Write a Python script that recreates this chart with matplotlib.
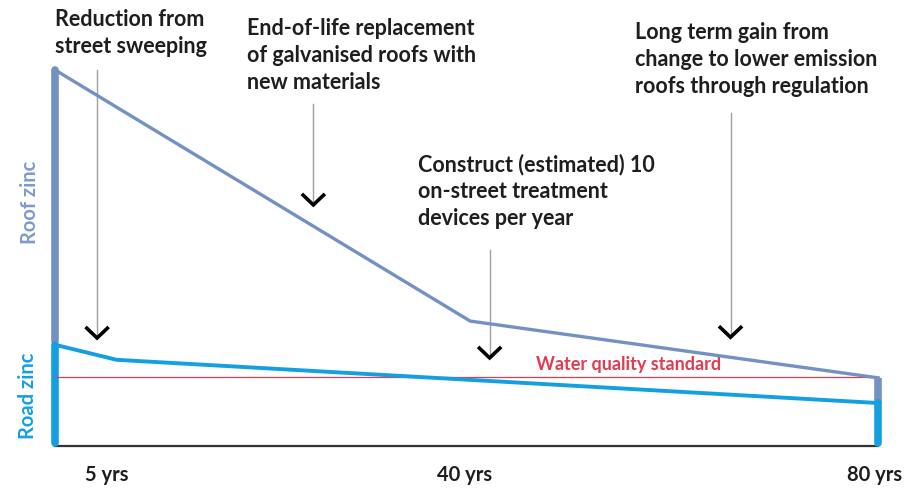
import matplotlib.pyplot as plt
import numpy as np

# time axis in years, concentrations in arbitrary units
roof_years = [0, 40.5, 80.3]
roof_zinc = [100, 33.2, 18.1]

road_years = [0, 6.0, 80.3]
road_zinc = [26.9, 22.9, 11.4]

water_standard = 18.4

tick_years = [5, 40, 80]
tick_labels = ['5 yrs', '40 yrs', '80 yrs']

notes = [
    'Reduction from\nstreet sweeping',
    'End-of-life replacement\nof galvanised roofs with\nnew materials',
    'Construct (estimated) 10\non-street treatment\ndevices per year',
    'Long term gain from\nchange to lower emission\nroofs through regulation',
]
note_pos = [(0.0, 116.2), (18.7, 113.9), (35.4, 77.8), (56.6, 112.7)]
arrow_x = [4.1, 25.2, 42.4, 65.9]
arrow_top = [100.0, 91.0, 52.0, 88.5]
arrow_tip = [28.7, 64.1, 23.4, 28.9]

roof_col = '#7391c2'
road_col = '#14a0e0'
red = '#e23a4e'
dark = '#1e1e1e'

plt.rcParams['font.family'] = ['Lato', 'DejaVu Sans']

fig = plt.figure(figsize=(9.14, 4.88), dpi=100)
ax = fig.add_axes([0, 0, 1, 1])
ax.set_xlim(-5.37, 83.8)
ax.set_ylim(-11.2, 118.6)
ax.axis('off')

# baseline
ax.plot([0, roof_years[-1]], [0, 0], color='#333333', lw=1.6, zorder=2)

# left and right bars
ax.plot([0, 0], [road_zinc[0] + 1.0, roof_zinc[0]], color=roof_col, lw=5.5,
        solid_capstyle='round', zorder=3)
ax.plot([0, 0], [0.8, road_zinc[0]], color=road_col, lw=5.5,
        solid_capstyle='round', zorder=3)
ax.plot([roof_years[-1]] * 2, [road_zinc[-1], roof_zinc[-1]], color=roof_col,
        lw=5.5, solid_capstyle='butt', zorder=3)
ax.plot([roof_years[-1]] * 2, [0.8, road_zinc[-1]], color=road_col, lw=5.5,
        solid_capstyle='round', zorder=3)

# series
ax.plot(roof_years, roof_zinc, color=roof_col, lw=2.4, zorder=4)
ax.plot(road_years, road_zinc, color=road_col, lw=2.8, zorder=4)
ax.plot([0, roof_years[-1]], [water_standard] * 2, color=red, lw=0.9, zorder=3)
ax.text(56.0, water_standard + 1.1, 'Water quality standard', color=red,
        fontsize=13, fontweight='bold', ha='center', va='bottom')

# arrows with open chevron heads
for x, top, tip in zip(arrow_x, arrow_top, arrow_tip):
    ax.plot([x, x], [top, tip + 1.0], color='#a0a0a0', lw=1.0, zorder=2)
    ax.plot([x - 1.0, x, x + 1.0], [tip + 2.6, tip, tip + 2.6], color='black',
            lw=2.6, solid_joinstyle='miter', zorder=5)

for txt, (x, y) in zip(notes, note_pos):
    ax.text(x, y, txt, ha='left', va='top', fontsize=15.5, fontweight='bold',
            color=dark, linespacing=1.35)

ax.text(-2.45, 64.9, 'Roof zinc', rotation=90, color='#7f9bcb', fontsize=14.5,
        fontweight='bold', ha='center', va='center')
ax.text(-2.6, 13.3, 'Road zinc', rotation=90, color=road_col, fontsize=14.5,
        fontweight='bold', ha='center', va='center')

for yr, lab in zip(tick_years, tick_labels):
    ax.text(yr, -7.7, lab, ha='center', va='center', fontsize=14.5,
            fontweight='bold', color=dark)

fig.savefig('out.png', dpi=100)
